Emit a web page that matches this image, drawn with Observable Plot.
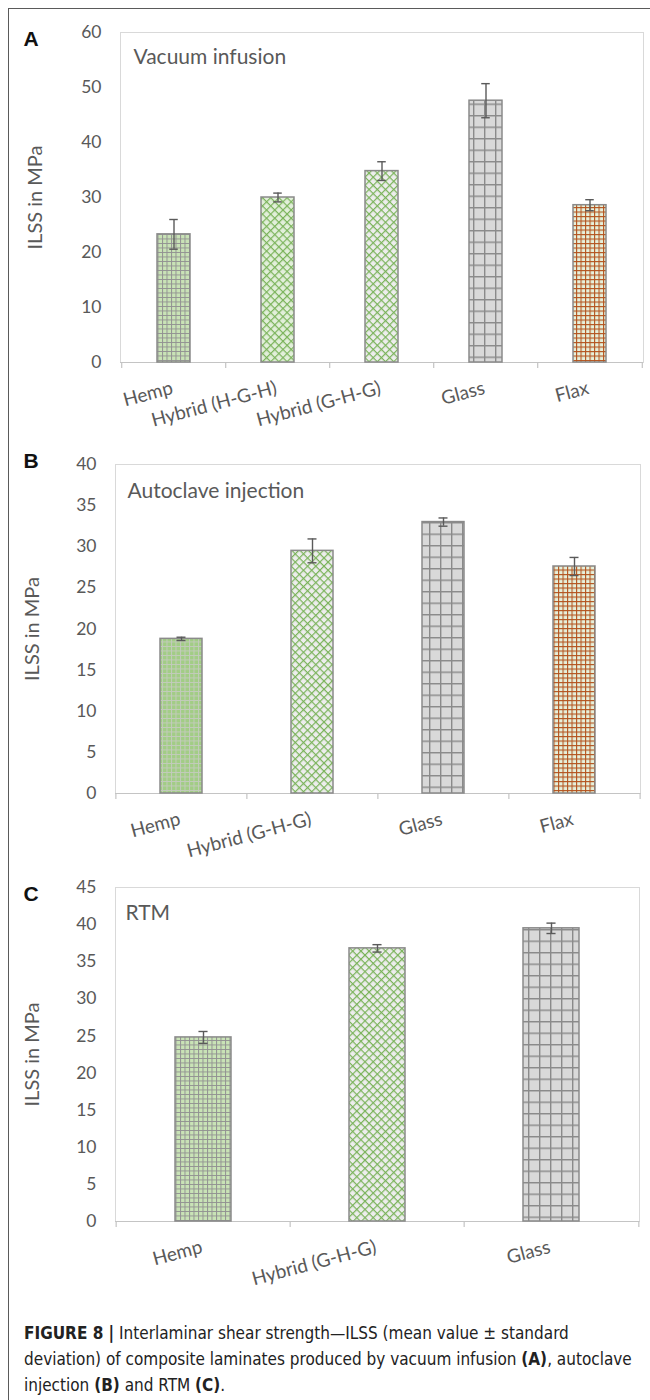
<!DOCTYPE html>
<html>
<head>
<meta charset="utf-8">
<script src="https://cdn.jsdelivr.net/npm/d3@7"></script>
<script src="https://cdn.jsdelivr.net/npm/@observablehq/plot@0.6"></script>
<style>
  html, body { margin: 0; padding: 0; background: #fff; }
  #page { position: relative; width: 650px; height: 1400px; overflow: hidden; }
  #frame { position: absolute; left: 8px; top: 8px; width: 700px; height: 1450px;
           border-left: 1.5px solid #5a5a5a; border-top: 1.5px solid #5a5a5a; }
  .panel { position: absolute; left: 0; }
  #caption { position: absolute; left: 24px; top: 1320px; width: 620px;
             font-family: "Liberation Sans Narrow", "Arial Narrow", "DejaVu Sans Condensed", sans-serif;
             font-size: 17px; line-height: 26px; color: #222; }
  #caption b { font-weight: bold; }
</style>
</head>
<body>
<div id="page">
  <div id="frame"></div>
  <svg width="0" height="0" style="position:absolute">
    <defs>
      <!-- fine grey grid on pale green -->
      <pattern id="hemp" patternUnits="userSpaceOnUse" width="4.5" height="4.5">
        <rect width="4.5" height="4.5" fill="#c9e3b6"/>
        <path d="M0 0.5H4.5M0.5 0V4.5" stroke="#929292" stroke-width="1"/>
      </pattern>
      <!-- fine light grid on stronger green -->
      <pattern id="hempDark" patternUnits="userSpaceOnUse" width="4.5" height="4.5">
        <rect width="4.5" height="4.5" fill="#a2cd85"/>
        <path d="M0 0.5H4.5M0.5 0V4.5" stroke="#c3cbbc" stroke-width="1"/>
      </pattern>
      <!-- green diagonal lattice -->
      <pattern id="hybridLight" patternUnits="userSpaceOnUse" width="5.8" height="5.8" patternTransform="rotate(45)">
        <rect width="5.8" height="5.8" fill="#e2efda"/>
        <path d="M0 0.6H5.8M0.6 0V5.8" stroke="#7ab35a" stroke-width="1.2"/>
      </pattern>
      <pattern id="hybridGrey" patternUnits="userSpaceOnUse" width="5.8" height="5.8" patternTransform="rotate(45)">
        <rect width="5.8" height="5.8" fill="#ededed"/>
        <path d="M0 0.6H5.8M0.6 0V5.8" stroke="#7ab35a" stroke-width="1.2"/>
      </pattern>
      <!-- coarse grey grid -->
      <pattern id="glass" patternUnits="userSpaceOnUse" width="11" height="11.5">
        <rect width="11" height="11.5" fill="#d9d9d9"/>
        <path d="M0 0.7H11M0.7 0V11.5" stroke="#8a8a8a" stroke-width="1.4"/>
      </pattern>
      <!-- fine brown grid -->
      <pattern id="flax" patternUnits="userSpaceOnUse" width="4.5" height="4.5">
        <rect width="4.5" height="4.5" fill="#e6f1dc"/>
        <path d="M0 0.55H4.5M0.55 0V4.5" stroke="#b4541f" stroke-width="1.1"/>
      </pattern>
    </defs>
  </svg>
  <div id="caption">
    <b>FIGURE 8 |</b> Interlaminar shear strength—ILSS (mean value ± standard<br>
    deviation) of composite laminates produced by vacuum infusion <b>(A)</b>, autoclave<br>
    injection <b>(B)</b> and RTM <b>(C)</b>.
  </div>
</div>
<script>
// Panel A — vacuum infusion
const catsA = ["Hemp", "Hybrid (H-G-H)", "Hybrid (G-H-G)", "Glass", "Flax"];
const meanA = [23.3, 30.0, 34.8, 47.6, 28.6];
const sdA = [2.7, 0.8, 1.7, 3.1, 1.0];
const patternA = ["hemp", "hybridLight", "hybridGrey", "glass", "flax"];
const ticksA = [0, 10, 20, 30, 40, 50, 60];

// Panel B — autoclave injection
const catsB = ["Hemp", "Hybrid (G-H-G)", "Glass", "Flax"];
const meanB = [18.8, 29.5, 33.0, 27.6];
const sdB = [0.2, 1.45, 0.5, 1.1];
const patternB = ["hempDark", "hybridGrey", "glass", "flax"];
const ticksB = [0, 5, 10, 15, 20, 25, 30, 35, 40];

// Panel C — RTM
const catsC = ["Hemp", "Hybrid (G-H-G)", "Glass"];
const meanC = [24.8, 36.8, 39.5];
const sdC = [0.8, 0.5, 0.7];
const patternC = ["hemp", "hybridGrey", "glass"];
const ticksC = [0, 5, 10, 15, 20, 25, 30, 35, 40, 45];

const textColor = "#595959";
const font = "Lato, 'Open Sans', sans-serif";

function panel({cats, mean, sd, pattern, ticks, letter, title, top, height,
                marginTop, marginBottom, marginLeft, marginRight,
                letterDy, titleDx, titleDy, yLabelX}) {
  const data = cats.map((c, i) => ({cat: c, mean: mean[i], sd: sd[i], fill: `url(#${pattern[i]})`}));
  const width = 650;
  const plotW = width - marginLeft - marginRight;
  const step = plotW / cats.length;
  const padding = 0.68;
  const bw = step * (1 - padding);
  const capInset = (bw - 9) / 2;
  const yMax = ticks[ticks.length - 1];

  const chart = Plot.plot({
    width, height, marginTop, marginBottom, marginLeft, marginRight,
    style: {background: "transparent", fontFamily: font, color: textColor, overflow: "visible"},
    x: {domain: cats, paddingInner: padding, paddingOuter: padding / 2, axis: null},
    y: {domain: [0, yMax], axis: null},
    color: {type: "identity"},
    marks: [
      Plot.frame({stroke: "#d9d9d9", strokeWidth: 1}),
      // category axis line and boundary ticks
      Plot.ruleY([0], {stroke: "#c4c4c4", strokeWidth: 1.2}),
      Plot.ruleX(cats, {x: d => d, dx: -step / 2, y1: 0, y2: 0, insetBottom: -6, stroke: "#c4c4c4", strokeWidth: 1.2}),
      Plot.ruleX([cats[cats.length - 1]], {x: d => d, dx: step / 2, y1: 0, y2: 0, insetBottom: -6, stroke: "#c4c4c4", strokeWidth: 1.2}),
      Plot.axisY({ticks, tickSize: 0, tickPadding: 19, fontSize: 17.5, fill: textColor, label: null}),
      Plot.barY(data, {x: "cat", y: "mean", fill: "fill", stroke: "#8a8a8a", strokeWidth: 1.5}),
      // error bars: mean ± standard deviation
      Plot.ruleX(data, {x: "cat", y1: d => d.mean - d.sd, y2: d => d.mean + d.sd, stroke: "#5a5a5a", strokeWidth: 1.4}),
      Plot.tickY(data, {x: "cat", y: d => d.mean - d.sd, insetLeft: capInset, insetRight: capInset, stroke: "#5a5a5a", strokeWidth: 1.4}),
      Plot.tickY(data, {x: "cat", y: d => d.mean + d.sd, insetLeft: capInset, insetRight: capInset, stroke: "#5a5a5a", strokeWidth: 1.4}),
      // rotated category labels
      Plot.text(cats, {x: d => d, frameAnchor: "bottom", dy: 31, rotate: -15, textAnchor: "end",
                       lineAnchor: "bottom", fontSize: 19, fill: textColor}),
      // y-axis title
      Plot.text(["ILSS in MPa"], {frameAnchor: "left", dx: yLabelX - marginLeft, rotate: -90,
                                  textAnchor: "middle", lineAnchor: "middle", fontSize: 20, fill: textColor}),
      // method name inside the plot area
      Plot.text([title], {frameAnchor: "top-left", dx: titleDx, dy: titleDy, textAnchor: "start",
                          lineAnchor: "top", fontSize: 21, fill: textColor}),
      // panel letter
      Plot.text([letter], {frameAnchor: "top-left", dx: 23 - marginLeft, dy: letterDy, textAnchor: "start",
                           lineAnchor: "bottom", fontSize: 21, fontWeight: "bold", fill: "#111",
                           fontFamily: "'Liberation Sans', Arial, sans-serif"})
    ]
  });
  chart.classList.add("panel");
  chart.style.top = top + "px";
  document.getElementById("page").appendChild(chart);
}

panel({cats: catsA, mean: meanA, sd: sdA, pattern: patternA, ticks: ticksA, letter: "A",
       title: "Vacuum infusion", top: 0, height: 422, marginTop: 32, marginBottom: 60,
       marginLeft: 120, marginRight: 7, letterDy: 13, titleDx: 13, titleDy: 17, yLabelX: 35});
panel({cats: catsB, mean: meanB, sd: sdB, pattern: patternB, ticks: ticksB, letter: "B",
       title: "Autoclave injection", top: 430, height: 423, marginTop: 34, marginBottom: 60,
       marginLeft: 115, marginRight: 10, letterDy: 3, titleDx: 12, titleDy: 19, yLabelX: 32});
panel({cats: catsC, mean: meanC, sd: sdC, pattern: patternC, ticks: ticksC, letter: "C",
       title: "RTM", top: 860, height: 431, marginTop: 27, marginBottom: 70,
       marginLeft: 115, marginRight: 11, letterDy: 13, titleDx: 10, titleDy: 18, yLabelX: 32});
</script>
</body>
</html>
